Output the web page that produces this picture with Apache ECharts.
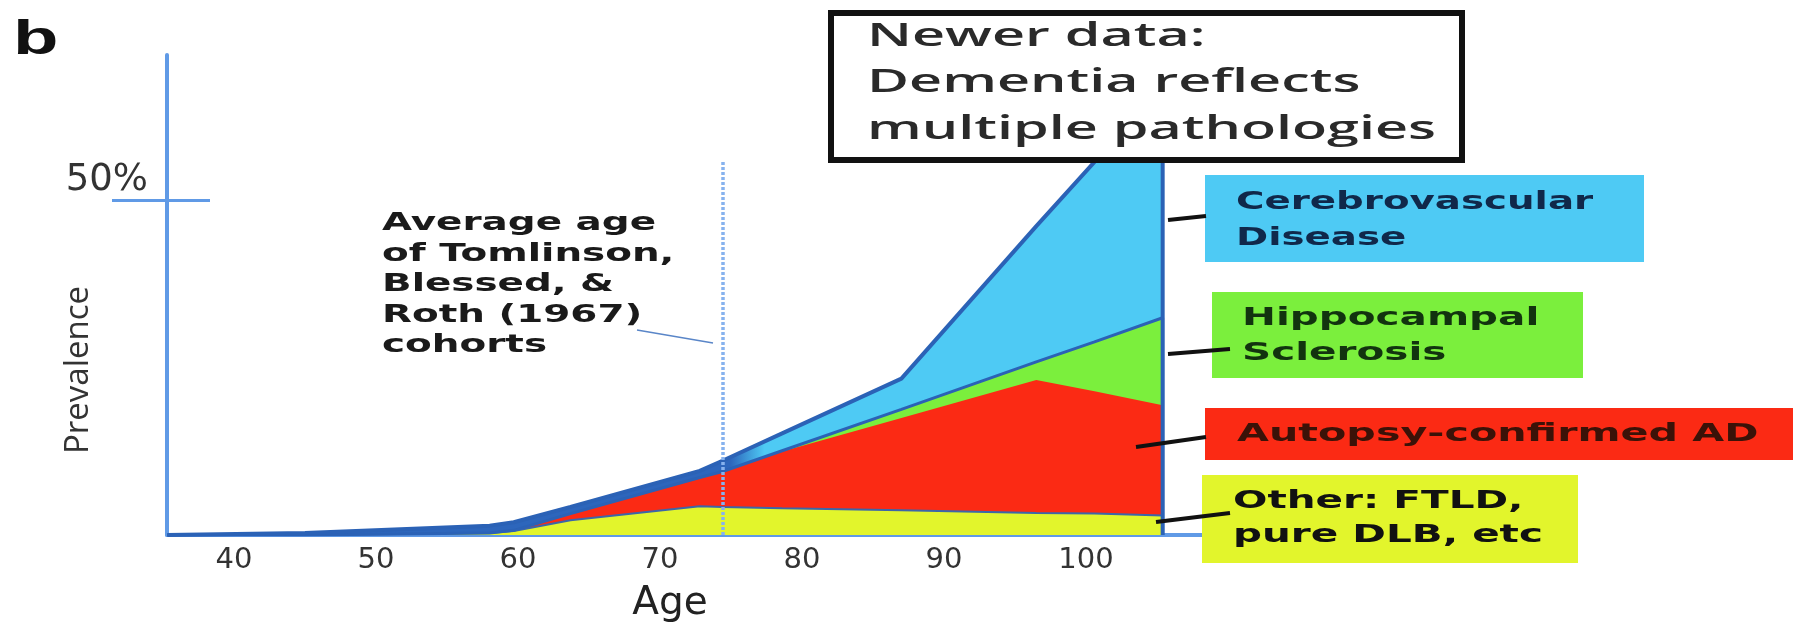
<!DOCTYPE html>
<html><head><meta charset="utf-8">
<script src="https://cdn.jsdelivr.net/npm/echarts@6/dist/echarts.min.js"></script>
<style>html,body{margin:0;padding:0;background:#fff}#c{width:1793px;height:628px}</style>
</head><body><div id="c"></div>
<script>
// ---- data (age in years, layer thickness in % prevalence) ----
const ages     = [35.3, 45, 58, 59.7, 63.7, 72.8, 74.4, 78.6, 87, 96.5, 100.6, 105.4, 105.4];
const otherPct = [0, 0, 0.3, 0.6, 2.2, 4.3, 4.2, 4.0, 3.7, 3.3, 3.2, 2.9, 0];
const adPct    = [0, 0, 0, 0.1, 1.0, 4.3, 5.3, 8.5, 13.8, 19.9, 18.3, 16.5, 0];
const hsPct    = [0, 0, 0, 0, 0, 0, 0, 0.1, 1.3, 2.7, 7.4, 13.1, 0];
const cvdPct   = [0, 0.3, 1.1, 1.2, 1.0, 1.0, 1.6, 2.6, 4.6, 20.3, 26.9, 34.8, 0];
const xTicks   = [40, 50, 60, 70, 80, 90, 100];
const yTicks   = [50];
const cohortAge = 74.4;      // average age of Tomlinson, Blessed & Roth cohorts
const cohortLineTop = 56;    // % where the marker line ends

// cumulative layer tops (stack built here)
const cum = layers => ages.map((a, i) => [a, layers.reduce((s, l) => s + l[i], 0)]);
const topOther = cum([otherPct]);
const topAD    = cum([otherPct, adPct]);
const topHS    = cum([otherPct, adPct, hsPct]);
const topAll   = cum([otherPct, adPct, hsPct, cvdPct]);

const BLUE = '#2b62b6';
const AXIS = '#609ae6';
const SX = 1.62;

function txt(x, y, text, o) {
  return {
    type: 'text', x: x, y: y, scaleX: o.sx || SX, z: 101,
    style: {
      text: text, fontFamily: o.family || 'DejaVu Sans', fontSize: o.size || 25,
      fontWeight: o.weight || 'bold', fill: o.color || '#111',
      lineHeight: o.lh || 30, align: 'left', verticalAlign: 'top',
      textAlign: 'left', textVerticalAlign: 'top'
    }
  };
}
function box(x, y, w, h, fill, stroke, lw) {
  return { type: 'rect', z: 100, shape: { x: x, y: y, width: w, height: h },
    style: { fill: fill, stroke: stroke || null, lineWidth: stroke ? (lw || 4) : 0 } };
}
function lead(x1, y1, x2, y2, color, w) {
  return { type: 'line', z: 100, shape: { x1: x1, y1: y1, x2: x2, y2: y2 },
    style: { stroke: color || '#111', lineWidth: w || 4 } };
}
function area(name, data, color) {
  return { name: name, type: 'line', data: data, showSymbol: false, symbol: 'none', z: 2,
    lineStyle: { width: 0, opacity: 0 }, areaStyle: { color: color, opacity: 1 } };
}
function outline(data, color, width) {
  return { type: 'line', data: data, showSymbol: false, symbol: 'none', z: 3, silent: true,
    lineStyle: { color: color, width: width } };
}

const cvdFill = { type: 'linear', x: 0, y: 0, x2: 1, y2: 0,
  colorStops: [{ offset: 0, color: '#2d66bc' }, { offset: 0.566, color: '#2d66bc' },
               { offset: 0.6, color: '#4ecaf4' }, { offset: 1, color: '#4ecaf4' }] };

const chart = echarts.init(document.getElementById('c'), null, { renderer: 'canvas' });
const cvdSeries = area('Cerebrovascular Disease', topAll, cvdFill);
const cohortSeries = outline(topAll, BLUE, 4);
cohortSeries.markLine = { silent: true, symbol: 'none', label: { show: false },
  lineStyle: { color: '#86b2ee', width: 3.5, type: [3, 2] },
  data: [[{ coord: [cohortAge, 0] }, { coord: [cohortAge, cohortLineTop] }]] };

chart.setOption({
  animation: false,
  backgroundColor: '#ffffff',
  textStyle: { fontFamily: 'DejaVu Sans' },
  grid: { left: 167, right: 591, top: 55, bottom: 89 },
  xAxis: {
    type: 'value', min: 35.28, max: 108.17,
    axisLine: { show: true, lineStyle: { color: AXIS, width: 4 } },
    axisTick: { show: false },
    splitLine: { show: false },
    axisLabel: { customValues: xTicks, fontSize: 29, color: '#333', margin: 11, fontFamily: 'DejaVu Sans' },
    name: 'Age', nameLocation: 'middle', nameGap: 49,
    nameTextStyle: { fontSize: 39, color: '#222', fontFamily: 'DejaVu Sans', padding: [0, 29, 0, 0] }
  },
  yAxis: [{
    type: 'value', position: 'left', min: 0, max: 71.8,
    axisLine: { show: true, lineStyle: { color: AXIS, width: 4 } },
    axisTick: { show: true, customValues: yTicks, length: 55, lineStyle: { color: AXIS, width: 3 } },
    splitLine: { show: false },
    axisLabel: { customValues: yTicks, formatter: v => v + '%', fontSize: 37, color: '#333',
      margin: 19, verticalAlign: 'bottom', lineHeight: 40, fontFamily: 'DejaVu Sans' },
    name: 'Prevalence', nameLocation: 'middle', nameRotate: 90, nameGap: 72, nameMoveOverlap: false,
    nameTextStyle: { fontSize: 33, color: '#333', fontFamily: 'Open Sans', padding: [0, 150, 0, 0] }
  }, {
    type: 'value', position: 'left', min: 0, max: 71.8,
    axisLine: { show: false },
    axisTick: { show: true, inside: true, customValues: yTicks, length: 43, lineStyle: { color: AXIS, width: 3 } },
    axisLabel: { show: false }, splitLine: { show: false }
  }],
  series: [
    cvdSeries,
    area('Hippocampal Sclerosis', topHS, '#7bef3d'),
    area('Autopsy-confirmed AD', topAD, '#fb2a14'),
    area('Other: FTLD, pure DLB, etc', topOther, '#e2f52c'),
    outline(topOther, '#3d66a8', 2),
    outline(topHS, BLUE, 3),
    cohortSeries
  ],
  graphic: [
    txt(13, 16, 'b', { family: 'Liberation Sans', size: 48, color: '#111', lh: 50, sx: 1.55 }),
    box(831, 13, 631, 147, '#ffffff', '#111', 6),
    txt(867, 13, 'Newer data:\nDementia reflects\nmultiple pathologies',
        { family: 'Open Sans', size: 33, weight: 600, color: '#2a2a2a', lh: 46.5, sx: 1.74 }),
    txt(382, 209, 'Average age\nof Tomlinson,\nBlessed, &\nRoth (1967)\ncohorts',
        { size: 24, color: '#1a1a1a', lh: 30.5, sx: 1.62 }),
    lead(637, 330, 713, 343, '#5a86c8', 1.5),
    box(1205, 175, 439, 87, '#4ecaf4'),
    txt(1236, 184, 'Cerebrovascular\nDisease', { color: '#10284a', lh: 36.5, sx: 1.55 }),
    box(1212, 292, 371, 86, '#7bef3d'),
    txt(1242, 301, 'Hippocampal\nSclerosis', { color: '#12330f', lh: 35 }),
    box(1205, 408, 600, 52, '#fb2a14'),
    txt(1237, 419, 'Autopsy-confirmed AD', { color: '#3b1208', lh: 30, sx: 1.65 }),
    box(1202, 475, 376, 88, '#e2f52c'),
    txt(1233, 484, 'Other: FTLD,\npure DLB, etc', { color: '#111', lh: 34 }),
    lead(1168, 220, 1206, 216),
    lead(1168, 354, 1230, 349),
    lead(1136, 447, 1206, 437),
    lead(1156, 522, 1230, 513)
  ]
});
</script></body></html>
